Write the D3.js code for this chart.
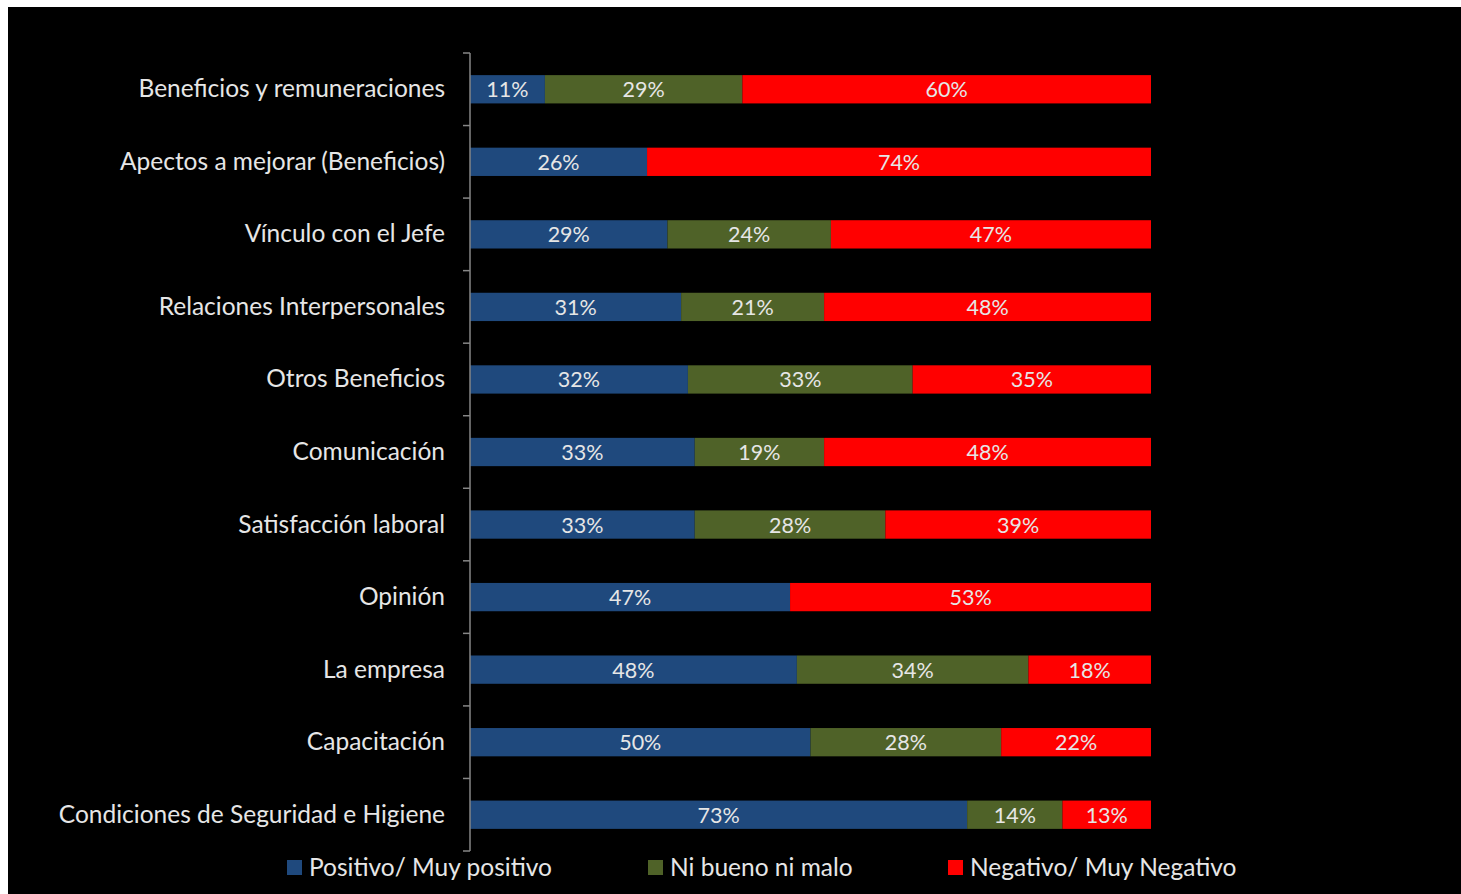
<!DOCTYPE html>
<html><head><meta charset="utf-8">
<script src="https://cdn.jsdelivr.net/npm/d3@7"></script>
<style>html,body{margin:0;padding:0;background:#fff;}svg{display:block;}</style>
</head><body>
<svg id="chart" width="1461" height="894"></svg>
<script>
const categories = ["Beneficios y remuneraciones","Apectos a mejorar (Beneficios)","Vínculo con el Jefe","Relaciones Interpersonales","Otros Beneficios","Comunicación","Satisfacción laboral","Opinión","La empresa","Capacitación","Condiciones de Seguridad e Higiene"];
const positivo = [11,26,29,31,32,33,33,47,48,50,73];
const neutro   = [29,0,24,21,33,19,28,0,34,28,14];
const negativo = [60,74,47,48,35,48,39,53,18,22,13];
const seriesNames = ["Positivo/ Muy positivo","Ni bueno ni malo","Negativo/ Muy Negativo"];
const seriesColors = ["#1F497D","#4F6228","#FF0000"];

(function(){
const svg = d3.select("#chart");
svg.append("rect").attr("x",8).attr("y",7).attr("width",1461-8).attr("height",894-7).attr("fill","#000");

const pL = 470, pR = 1151, pT = 53, pB = 851;
const x = d3.scaleLinear().domain([0,100]).range([pL,pR]);
const y = d3.scaleBand().domain(categories).range([pT,pB]).paddingInner(0.61).paddingOuter(0.305);
const yb = d3.scaleBand().domain(categories).range([pT,pB]);

const stackData = categories.map((c,i)=>({cat:c, s0:positivo[i], s1:neutro[i], s2:negativo[i]}));
const stack = d3.stack().keys(["s0","s1","s2"])(stackData);
const font = "Lato, 'Open Sans', sans-serif";
const txtColor = "#e6e6e6";

const g = svg.append("g");
stack.forEach((layer,si)=>{
  layer.forEach(d=>{
    const v = d[1]-d[0];
    if (v<=0) return;
    g.append("rect")
      .attr("x",x(d[0])).attr("width",x(d[1])-x(d[0]))
      .attr("y",y(d.data.cat)).attr("height",y.bandwidth())
      .attr("fill",seriesColors[si]);
    g.append("text")
      .attr("x",(x(d[0])+x(d[1]))/2)
      .attr("y",y(d.data.cat)+y.bandwidth()/2+8)
      .attr("text-anchor","middle")
      .attr("font-family",font)
      .attr("font-size",21.5)
      .attr("fill",txtColor)
      .text(v+"%");
  });
});

const axisColor = "#868686";
svg.append("line").attr("x1",pL).attr("x2",pL).attr("y1",pT).attr("y2",pB).attr("stroke",axisColor).attr("stroke-width",1.5);
const tickPos = categories.map(c=>yb(c)).concat([pB]);
tickPos.forEach(t=>{
  svg.append("line").attr("x1",pL-7).attr("x2",pL).attr("y1",t).attr("y2",t).attr("stroke",axisColor).attr("stroke-width",1.5);
});
categories.forEach(c=>{
  svg.append("text")
    .attr("x",445).attr("y",y(c)+y.bandwidth()/2+8)
    .attr("text-anchor","end")
    .attr("font-family",font)
    .attr("font-size",24.5)
    .attr("fill",txtColor)
    .text(c);
});

const legendX = [287,648,948];
seriesNames.forEach((n,i)=>{
  svg.append("rect").attr("x",legendX[i]).attr("y",860).attr("width",15).attr("height",15).attr("fill",seriesColors[i]);
  svg.append("text").attr("x",legendX[i]+22).attr("y",876)
    .attr("font-family",font)
    .attr("font-size",24.5).attr("fill",txtColor).text(n);
});
})();
</script>
</body></html>
